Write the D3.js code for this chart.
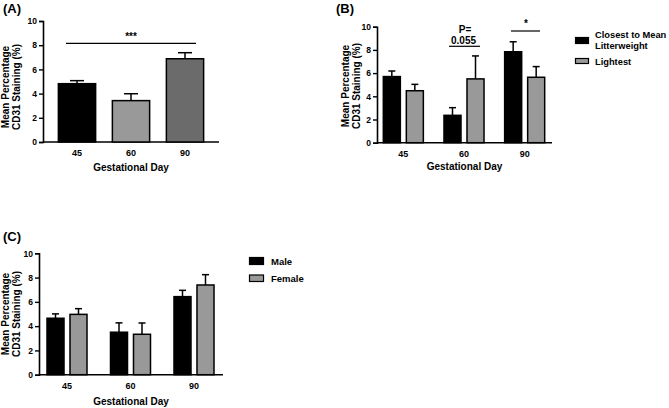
<!DOCTYPE html>
<html><head><meta charset="utf-8">
<script src="https://cdn.jsdelivr.net/npm/d3@7"></script>
<style>
html,body{margin:0;padding:0;background:#fff;}
svg{display:block;}
text{font-family:"Liberation Sans",Arial,sans-serif;font-weight:bold;fill:#000;}
</style></head>
<body>
<svg id="chart" width="669" height="408"></svg>
<script>
// ---------- DATA ----------
const days = ["45", "60", "90"];
const yTicks = [0, 2, 4, 6, 8, 10];

// Panel A
const aMeans = [4.82, 3.42, 6.88];
const aErr   = [0.25, 0.57, 0.50];
const aColors = ["#000000", "#999999", "#6b6b6b"];

// Panel B
const bSeries = ["Closest to Mean Litterweight", "Lightest"];
const bMeansClosest = [5.70, 2.36, 7.84];
const bErrClosest   = [0.48, 0.66, 0.86];
const bMeansLightest = [4.48, 5.50, 5.64];
const bErrLightest   = [0.55, 1.98, 0.92];

// Panel C
const cSeries = ["Male", "Female"];
const cMeansMale = [4.65, 3.50, 6.43];
const cErrMale   = [0.36, 0.77, 0.52];
const cMeansFemale = [4.97, 3.33, 7.39];
const cErrFemale   = [0.47, 0.93, 0.85];

const seriesColors = ["#000000", "#999999"];

// ---------- DRAW ----------
const svg = d3.select("#chart");

function yAxisPanel(g, cfg) {
  const y = d3.scaleLinear().domain([0, 10]).range([cfg.y0, cfg.y1]);
  const ax = g.append("g").attr("transform", `translate(${cfg.axX},0)`)
    .call(d3.axisLeft(y).tickValues(yTicks).tickSize(4).tickPadding(2).tickFormat(d3.format("d")));
  ax.select(".domain").attr("stroke", "#000").attr("stroke-width", 1.6);
  ax.selectAll(".tick line").attr("stroke", "#000").attr("stroke-width", 1.4);
  ax.selectAll(".tick text").style("font-size", "8.5px").style("font-family", "Liberation Sans, Arial, sans-serif").style("font-weight", "bold");
  // x axis line
  g.append("line").attr("x1", cfg.axX).attr("x2", cfg.axEnd).attr("y1", cfg.y0).attr("y2", cfg.y0)
    .attr("stroke", "#000").attr("stroke-width", 1.6);
  // y title
  const t = g.append("text").attr("transform", `translate(${cfg.ytX},${cfg.ytY}) rotate(-90)`)
    .attr("text-anchor", "middle").style("font-size", "10px");
  t.append("tspan").attr("x", 0).attr("dy", 0).text("Mean Percentage");
  t.append("tspan").attr("x", 0).attr("dy", "1.14em").text("CD31 Staining (%)");
  // x title
  g.append("text").attr("x", cfg.xtX).attr("y", cfg.xtY).attr("text-anchor", "middle")
    .style("font-size", "10px").text("Gestational Day");
  // panel label
  g.append("text").attr("x", cfg.lblX).attr("y", cfg.lblY).style("font-size", "13px").text(cfg.label);
  return y;
}

function xTickLabels(g, x, y0) {
  days.forEach(d => {
    g.append("text").attr("x", x(d) + x.bandwidth() / 2).attr("y", y0 + 14)
      .attr("text-anchor", "middle").style("font-size", "9px").text(d);
  });
}

function bar(g, x0, w, y, v, e, color, cap) {
  const cx = x0 + w / 2;
  // error bar (upper only)
  g.append("line").attr("x1", cx).attr("x2", cx).attr("y1", y(v)).attr("y2", y(v + e))
    .attr("stroke", "#000").attr("stroke-width", 1.5);
  g.append("line").attr("x1", cx - cap / 2).attr("x2", cx + cap / 2).attr("y1", y(v + e)).attr("y2", y(v + e))
    .attr("stroke", "#000").attr("stroke-width", 1.5);
  g.append("rect").attr("x", x0).attr("y", y(v)).attr("width", w).attr("height", y(0) - y(v))
    .attr("fill", color).attr("stroke", "#000").attr("stroke-width", 1.5);
}

// ----- Panel A -----
{
  const g = svg.append("g");
  const cfg = {y0: 142, y1: 21, axX: 43, axEnd: 219, ytX: 9, ytY: 87, xtX: 131, xtY: 171, lblX: 3, lblY: 13, label: "(A)"};
  const y = yAxisPanel(g, cfg);
  const x = d3.scaleBand().domain(days).range([50, 212]).paddingInner(0.31).paddingOuter(0.155);
  days.forEach((d, i) => bar(g, x(d), x.bandwidth(), y, aMeans[i], aErr[i], aColors[i], 14));
  xTickLabels(g, x, cfg.y0);
  // significance
  g.append("line").attr("x1", 66).attr("x2", 196).attr("y1", 43.3).attr("y2", 43.3).attr("stroke", "#000").attr("stroke-width", 1.2);
  g.append("text").attr("x", 131).attr("y", 40).attr("text-anchor", "middle").style("font-size", "10px").text("***");
}

// ----- Panel B -----
{
  const g = svg.append("g");
  const cfg = {y0: 142.7, y1: 26.7, axX: 377, axEnd: 552, ytX: 349, ytY: 86, xtX: 464.5, xtY: 170, lblX: 336, lblY: 13, label: "(B)"};
  const y = yAxisPanel(g, cfg);
  const x = d3.scaleBand().domain(days).range([373, 555]).paddingInner(0.34).paddingOuter(0.17);
  const xs = d3.scaleBand().domain([0, 1]).range([0, x.bandwidth()]).paddingInner(0.26);
  const means = [bMeansClosest, bMeansLightest], errs = [bErrClosest, bErrLightest];
  days.forEach((d, i) => {
    [0, 1].forEach(s => bar(g, x(d) + xs(s), xs.bandwidth(), y, means[s][i], errs[s][i], seriesColors[s], 7));
  });
  xTickLabels(g, x, cfg.y0);
  // significance
  g.append("text").attr("x", 465).attr("y", 32.5).attr("text-anchor", "middle").style("font-size", "10px").text("P=");
  g.append("text").attr("x", 463.5).attr("y", 43.5).attr("text-anchor", "middle").style("font-size", "10px").text("0.055");
  g.append("line").attr("x1", 449).attr("x2", 480).attr("y1", 46.3).attr("y2", 46.3).attr("stroke", "#000").attr("stroke-width", 1.2);
  g.append("text").attr("x", 526).attr("y", 27).attr("text-anchor", "middle").style("font-size", "10px").text("*");
  g.append("line").attr("x1", 511).attr("x2", 540).attr("y1", 31).attr("y2", 31).attr("stroke", "#000").attr("stroke-width", 1.2);
  // legend
  const lg = g.append("g");
  lg.append("rect").attr("x", 575.5).attr("y", 37.5).attr("width", 13).attr("height", 6).attr("fill", seriesColors[0]).attr("stroke", "#000").attr("stroke-width", 1.2);
  lg.append("text").attr("x", 595).attr("y", 37.5).style("font-size", "9.3px").text("Closest to Mean");
  lg.append("text").attr("x", 595).attr("y", 48.5).style("font-size", "9.3px").text("Litterweight");
  lg.append("rect").attr("x", 575.5).attr("y", 58.5).attr("width", 13).attr("height", 5).attr("fill", seriesColors[1]).attr("stroke", "#000").attr("stroke-width", 1.2);
  lg.append("text").attr("x", 595).attr("y", 64.5).style("font-size", "9.3px").text(bSeries[1]);
}

// ----- Panel C -----
{
  const g = svg.append("g");
  const cfg = {y0: 374.7, y1: 253.3, axX: 39, axEnd: 223, ytX: 9, ytY: 314, xtX: 131, xtY: 405, lblX: 3, lblY: 241, label: "(C)"};
  const y = yAxisPanel(g, cfg);
  const x = d3.scaleBand().domain(days).range([35.25, 225.75]).paddingInner(0.37).paddingOuter(0.185);
  const xs = d3.scaleBand().domain([0, 1]).range([0, x.bandwidth()]).paddingInner(0.26);
  const means = [cMeansMale, cMeansFemale], errs = [cErrMale, cErrFemale];
  days.forEach((d, i) => {
    [0, 1].forEach(s => bar(g, x(d) + xs(s), xs.bandwidth(), y, means[s][i], errs[s][i], seriesColors[s], 7));
  });
  xTickLabels(g, x, cfg.y0);
  // legend
  const lg = g.append("g");
  lg.append("rect").attr("x", 249.5).attr("y", 257.5).attr("width", 14).attr("height", 7).attr("fill", seriesColors[0]).attr("stroke", "#000").attr("stroke-width", 1.2);
  lg.append("text").attr("x", 271).attr("y", 265).style("font-size", "9.5px").text(cSeries[0]);
  lg.append("rect").attr("x", 249.5).attr("y", 275).attr("width", 14).attr("height", 6.5).attr("fill", seriesColors[1]).attr("stroke", "#000").attr("stroke-width", 1.2);
  lg.append("text").attr("x", 271).attr("y", 282).style("font-size", "9.5px").text(cSeries[1]);
}
</script>
</body></html>
